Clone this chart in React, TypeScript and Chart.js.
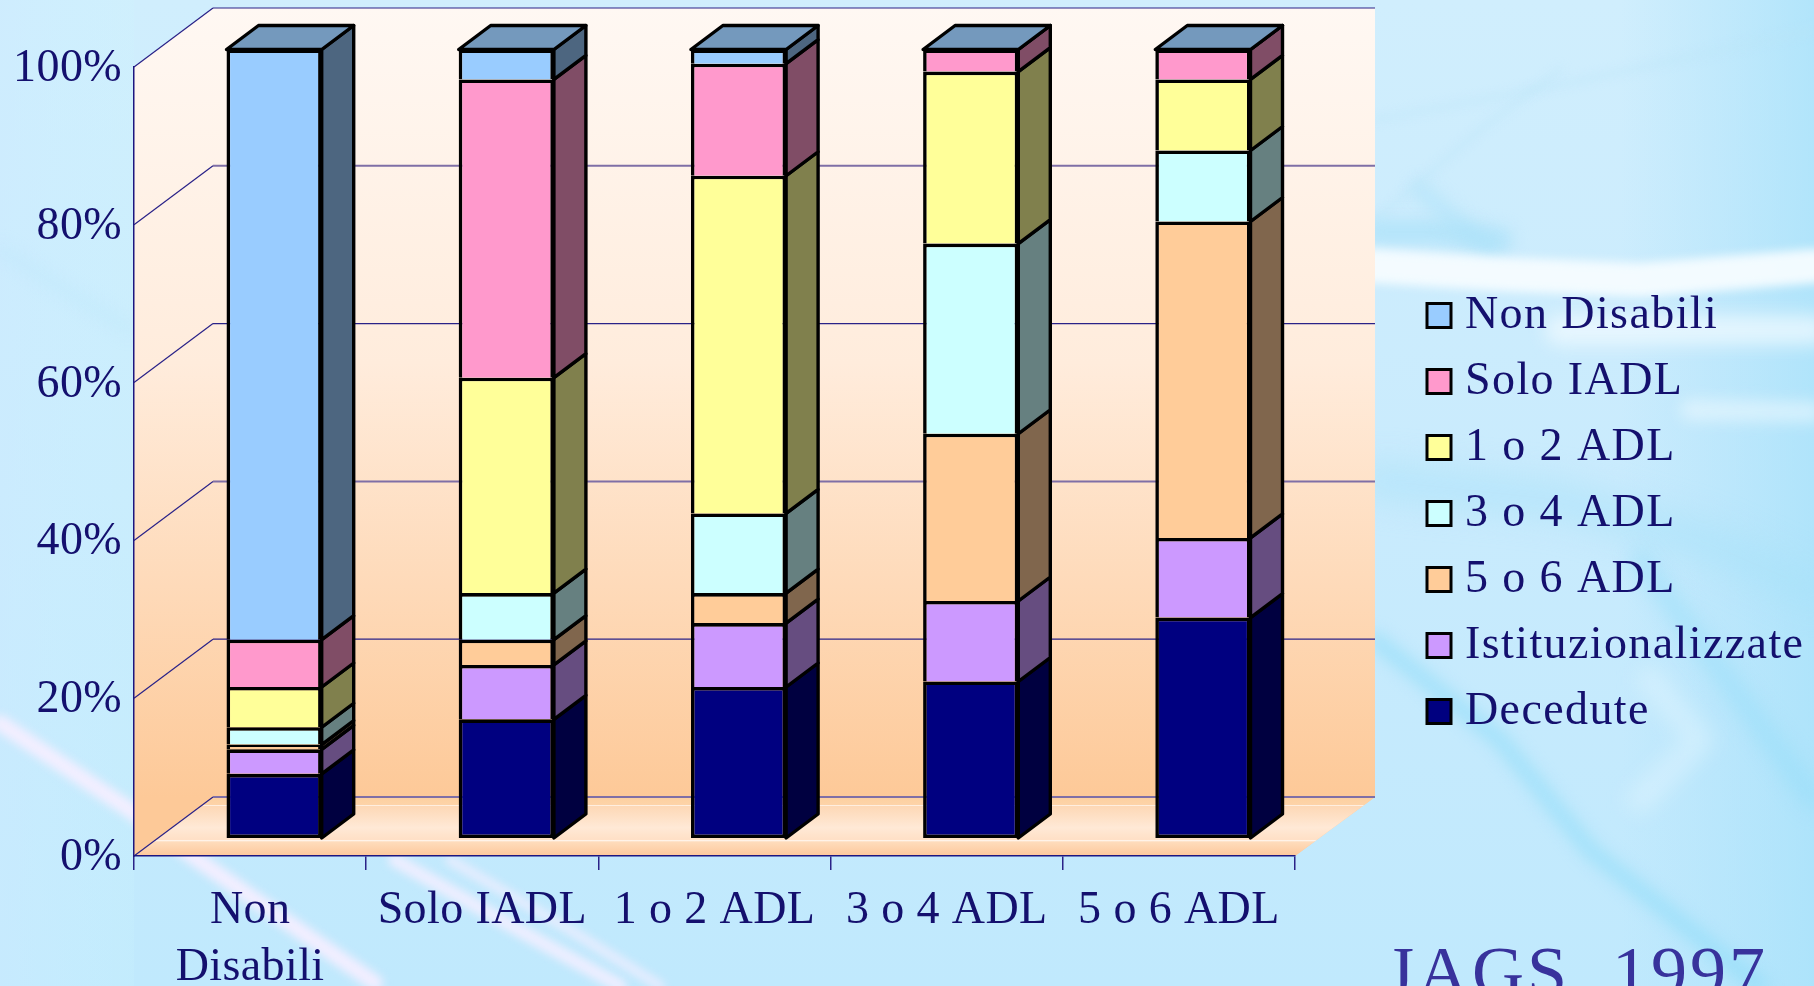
import React, { useEffect, useRef } from "react";
import { Chart, registerables } from "chart.js";

Chart.register(...registerables);

const categories = [["Non", "Disabili"], "Solo IADL", "1 o 2 ADL", "3 o 4 ADL", "5 o 6 ADL"];
const decedute = [8.2, 15.1, 19.2, 19.9, 28];
const istituzionalizzate = [3.1, 6.9, 8.1, 10.2, 10.1];
const adl56 = [0.6, 3.2, 3.8, 21.2, 40.1];
const adl34 = [2.2, 5.9, 10.1, 24.1, 9];
const adl12 = [5.1, 27.3, 42.8, 21.8, 9];
const soloIadl = [6, 37.8, 14.2, 2.8, 3.8];
const nonDisabili = [74.8, 3.8, 1.8, 0, 0];
const yTicks = [0, 20, 40, 60, 80, 100];
const softGrid = [0, 40, 80];
const source = "JAGS, 1997";

const NAVY = "#14106e";
const FONT = "'Liberation Serif', serif";
const W = 1814;
const H = 986;

const depthX = 79;
const depthY = 59;
const barOffX = 24;
const barOffY = 17.5;
const barDX = 32;
const barDY = 24;

const seriesDefs = [
  { label: "Decedute", data: decedute, color: "#000080", side: "#000040" },
  { label: "Istituzionalizzate", data: istituzionalizzate, color: "#CC99FF", side: "#664D80" },
  { label: "5 o 6 ADL", data: adl56, color: "#FFCC99", side: "#80664D" },
  { label: "3 o 4 ADL", data: adl34, color: "#CCFFFF", side: "#668080" },
  { label: "1 o 2 ADL", data: adl12, color: "#FFFF99", side: "#80804D" },
  { label: "Solo IADL", data: soloIadl, color: "#FF99CC", side: "#804D66" },
  { label: "Non Disabili", data: nonDisabili, color: "#99CCFF", side: "#4D6680" },
];
const topColor = "#7499BD";

function streak(ctx: CanvasRenderingContext2D, pts: number[][], color: string, width: number, blur: number) {
  ctx.save();
  ctx.filter = `blur(${blur}px)`;
  ctx.strokeStyle = color;
  ctx.lineWidth = width;
  ctx.lineCap = "round";
  ctx.lineJoin = "round";
  ctx.beginPath();
  pts.forEach((p, i) => (i ? ctx.lineTo(p[0], p[1]) : ctx.moveTo(p[0], p[1])));
  ctx.stroke();
  ctx.restore();
}

function paintBackground(ctx: CanvasRenderingContext2D) {
  const g = ctx.createLinearGradient(0, 0, 0, H);
  g.addColorStop(0, "#d0eefd");
  g.addColorStop(0.5, "#c9ebfd");
  g.addColorStop(1, "#c0e9fd");
  ctx.fillStyle = g;
  ctx.fillRect(0, 0, W, H);
  const l = ctx.createLinearGradient(0, 0, 134, 0);
  l.addColorStop(0, "rgba(205,235,255,.5)");
  l.addColorStop(1, "rgba(205,245,255,.2)");
  ctx.fillStyle = l;
  ctx.fillRect(0, 0, 134, H);
  const e = ctx.createLinearGradient(1620, 0, W, 0);
  e.addColorStop(0, "rgba(170,225,250,0)");
  e.addColorStop(1, "rgba(165,225,250,0.7)");
  ctx.fillStyle = e;
  ctx.fillRect(1620, 0, W - 1620, H);
  streak(ctx, [[1375, 120], [1560, 85], [1814, 30]], "rgba(185,228,250,.35)", 7, 5);
  streak(ctx, [[1375, 220], [1480, 130], [1560, 70]], "rgba(185,228,250,.35)", 7, 5);
  streak(ctx, [[1375, 232], [1440, 232], [1500, 240]], "rgba(170,225,250,.7)", 24, 8);
  streak(ctx, [[1420, 190], [1490, 250]], "rgba(170,225,250,.5)", 18, 8);
  streak(ctx, [[1375, 266], [1500, 274], [1640, 280], [1814, 266]], "rgba(245,252,255,.95)", 34, 5);
  streak(ctx, [[1560, 330], [1814, 330]], "rgba(240,250,255,.75)", 30, 9);
  streak(ctx, [[1690, 410], [1814, 412]], "rgba(240,250,255,.6)", 20, 8);
  streak(ctx, [[1375, 480], [1560, 500], [1700, 540], [1814, 590]], "rgba(165,225,250,.5)", 36, 16);
  streak(ctx, [[1375, 640], [1500, 740], [1590, 850], [1760, 986]], "rgba(140,220,248,.6)", 16, 8);
  streak(ctx, [[1640, 560], [1814, 800]], "rgba(140,220,248,.45)", 20, 10);
  streak(ctx, [[1650, 680], [1700, 740], [1640, 800]], "rgba(225,245,255,.5)", 26, 10);
  streak(ctx, [[0, 723], [130, 810], [198, 860], [375, 983]], "rgba(245,238,255,.95)", 16, 5);
  streak(ctx, [[395, 860], [510, 925], [620, 986]], "rgba(245,238,255,.85)", 14, 4);
  streak(ctx, [[450, 860], [570, 930], [660, 986]], "rgba(245,238,255,.7)", 10, 4);
  streak(ctx, [[0, 250], [130, 330]], "rgba(185,230,250,.4)", 10, 8);
}

const scenePlugin = {
  id: "scene",
  beforeDraw(chart: any) {
    const { ctx, chartArea: a, scales } = chart;
    const y = scales.y;
    ctx.save();
    paintBackground(ctx);

    const yTop = y.getPixelForValue(100);
    const yBot = y.getPixelForValue(0);
    const backL = a.left + depthX;
    const backR = a.right + depthX + 1;

    const wall = ctx.createLinearGradient(0, yTop - depthY, 0, yBot - depthY);
    wall.addColorStop(0, "#fff8f3");
    wall.addColorStop(0.45, "#ffecdc");
    wall.addColorStop(1, "#fdc998");
    ctx.fillStyle = wall;
    ctx.beginPath();
    ctx.moveTo(a.left, yTop);
    ctx.lineTo(backL, yTop - depthY);
    ctx.lineTo(backR, yTop - depthY);
    ctx.lineTo(backR, yBot - depthY);
    ctx.lineTo(a.right, yBot);
    ctx.lineTo(a.left, yBot);
    ctx.closePath();
    ctx.fill();

    const floor = ctx.createLinearGradient(0, yBot - depthY, 0, yBot);
    floor.addColorStop(0, "#fdd0a0");
    floor.addColorStop(0.13, "#fdd3a8");
    floor.addColorStop(0.14, "#fff4ea");
    floor.addColorStop(0.16, "#fdd8b6");
    floor.addColorStop(0.52, "#ffe9d6");
    floor.addColorStop(0.72, "#ffe0c6");
    floor.addColorStop(0.74, "#fff6ee");
    floor.addColorStop(0.76, "#fedcbc");
    floor.addColorStop(1, "#fdc89b");
    ctx.fillStyle = floor;
    ctx.beginPath();
    ctx.moveTo(a.left, yBot);
    ctx.lineTo(backL, yBot - depthY);
    ctx.lineTo(backR, yBot - depthY);
    ctx.lineTo(a.right, yBot);
    ctx.closePath();
    ctx.fill();

    yTicks.forEach((v) => {
      const py = y.getPixelForValue(v);
      const soft = softGrid.includes(v);
      ctx.strokeStyle = "#2a2288";
      ctx.lineWidth = 1.2;
      ctx.beginPath();
      ctx.moveTo(a.left, py);
      ctx.lineTo(backL, py - depthY);
      ctx.stroke();
      ctx.strokeStyle = soft ? "#7f6fa6" : "#2a2288";
      ctx.lineWidth = soft ? 2 : 1.2;
      ctx.beginPath();
      ctx.moveTo(backL, py - depthY);
      ctx.lineTo(backR, py - depthY);
      ctx.stroke();
    });
    ctx.restore();

    (ctx as any).letterSpacing = "0.4px";
  },
  afterLayout(chart: any) {
    const lg = chart.legend;
    if (!lg) return;
    lg.left = 1407;
    lg.right = W;
    lg.top = 272.5;
    lg.bottom = H;
    if (!lg.__wrapped) {
      lg.__wrapped = true;
      const orig = lg.draw.bind(lg);
      lg.draw = (area: any) => {
        const c = chart.ctx;
        c.save();
        (c as any).letterSpacing = "1.4px";
        const ft = c.fillText;
        c.fillText = function (t: string, x: number, yy: number, m?: number) {
          return ft.call(c, t, x - 9, yy, m);
        };
        orig(area);
        delete c.fillText;
        c.restore();
      };
    }
  },
  beforeDatasetsDraw(chart: any) {
    const { ctx } = chart;
    ctx.save();
    ctx.translate(barOffX, -barOffY);
    ctx.strokeStyle = "#000";
    ctx.lineWidth = 3.4;
    ctx.lineJoin = "round";
    chart.data.datasets.forEach((ds: any, i: number) => {
      const meta = chart.getDatasetMeta(i);
      meta.data.forEach((bar: any) => {
        const p = bar.getProps(["x", "y", "base", "width"], true);
        const r = p.x + p.width / 2;
        ctx.fillStyle = ds.sideColor;
        ctx.beginPath();
        ctx.moveTo(r, p.y);
        ctx.lineTo(r + barDX, p.y - barDY);
        ctx.lineTo(r + barDX, p.base - barDY);
        ctx.lineTo(r, p.base);
        ctx.closePath();
        ctx.fill();
        ctx.stroke();
      });
    });
    const last = chart.getDatasetMeta(chart.data.datasets.length - 1);
    last.data.forEach((bar: any) => {
      const p = bar.getProps(["x", "y", "base", "width"], true);
      const l = p.x - p.width / 2;
      const r = p.x + p.width / 2;
      ctx.fillStyle = topColor;
      ctx.beginPath();
      ctx.moveTo(l, p.y);
      ctx.lineTo(l + barDX, p.y - barDY);
      ctx.lineTo(r + barDX, p.y - barDY);
      ctx.lineTo(r, p.y);
      ctx.closePath();
      ctx.fill();
      ctx.stroke();
    });
  },
  afterDatasetsDraw(chart: any) {
    chart.ctx.restore();
  },
  afterDraw(chart: any) {
    const { ctx } = chart;
    ctx.save();
    (ctx as any).letterSpacing = "3px";
    ctx.font = `72px ${FONT}`;
    ctx.fillStyle = "#38329c";
    ctx.textAlign = "left";
    ctx.textBaseline = "alphabetic";
    ctx.fillText(source, 1386, 996);
    ctx.restore();
  },
};

export default function App() {
  const ref = useRef<HTMLCanvasElement>(null);
  useEffect(() => {
    const chart = new Chart(ref.current as HTMLCanvasElement, {
      type: "bar",
      data: {
        labels: categories as any,
        datasets: seriesDefs.map((s, i) => ({
          label: s.label,
          data: s.data,
          backgroundColor: s.color,
          borderColor: "#000",
          borderWidth: 3.6,
          borderSkipped: i === 0 ? false : "start",
          sideColor: s.side,
          clip: false,
          barPercentage: 0.41,
          categoryPercentage: 1,
        })) as any,
      },
      options: {
        responsive: false,
        animation: false,
        events: [],
        layout: { padding: { top: 67, right: 219, left: 0, bottom: 0 } },
        plugins: {
          title: { display: false },
          tooltip: { enabled: false },
          legend: {
            position: "right",
            align: "start",
            reverse: true,
            maxWidth: 300,
            labels: {
              color: NAVY,
              boxWidth: 24,
              boxHeight: 24,
              padding: 20,
              font: { family: FONT, size: 46 },
              generateLabels(chart: any) {
                return chart.data.datasets.map((d: any, i: number) => ({
                  text: d.label,
                  fillStyle: d.backgroundColor,
                  strokeStyle: "#000",
                  lineWidth: 3,
                  fontColor: NAVY,
                  datasetIndex: i,
                }));
              },
            },
          },
        },
        scales: {
          x: {
            stacked: true,
            offset: true,
            afterFit(s: any) {
              s.height = H - 856;
            },
            border: { display: true, color: "#1c1680", width: 1.5 },
            grid: { display: true, drawOnChartArea: false, drawTicks: true, tickLength: 14, color: "#2a2288", lineWidth: 1.5, offset: true },
            ticks: {
              color: NAVY,
              padding: 12,
              autoSkip: false,
              maxRotation: 0,
              minRotation: 0,
              font: { family: FONT, size: 46, lineHeight: 1.24 },
            },
          },
          y: {
            stacked: true,
            min: 0,
            max: 100,
            afterFit(s: any) {
              s.width = 134;
            },
            afterBuildTicks(s: any) {
              s.ticks = yTicks.map((v) => ({ value: v }));
            },
            border: { display: true, color: "#1c1680", width: 1.5 },
            grid: { display: true, drawOnChartArea: false, drawTicks: false },
            ticks: {
              color: NAVY,
              padding: 12,
              labelOffset: 2,
              font: { family: FONT, size: 46 },
              callback: (v: any) => `${v}%`,
            },
          },
        },
      } as any,
      plugins: [scenePlugin as any],
    });
    return () => chart.destroy();
  }, []);
  return (
    <div style={{ position: "fixed", left: 0, top: 0, width: W, height: H, overflow: "hidden" }}>
      <canvas ref={ref} width={W} height={H} style={{ display: "block", width: W, height: H }} />
    </div>
  );
}
